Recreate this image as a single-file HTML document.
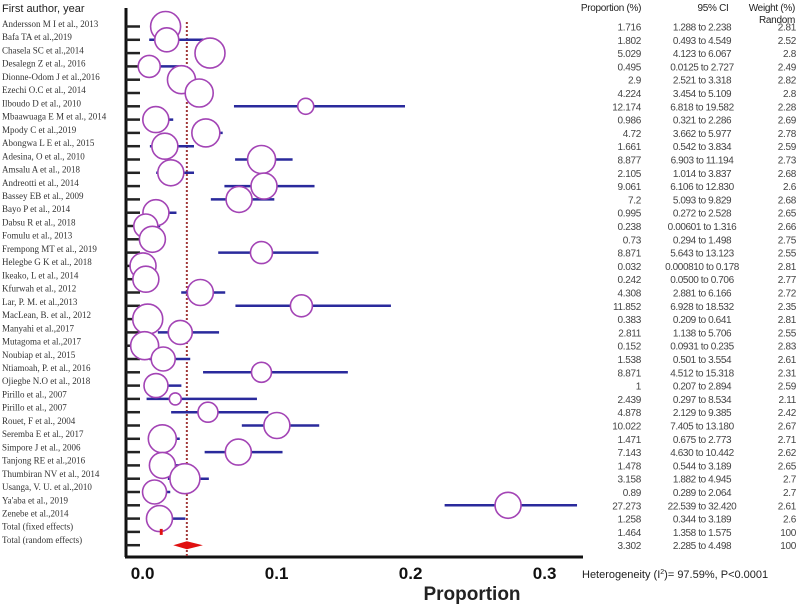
<!DOCTYPE html>
<html><head><meta charset="utf-8"><style>
body{margin:0;background:#fff;width:797px;height:606px;overflow:hidden;position:relative}
svg{position:absolute;left:0;top:0}
</style></head><body>
<svg id="plot" width="797" height="606"></svg>
<script>
const authors=["Andersson M I et al., 2013","Bafa TA  et al.,2019","Chasela SC et al.,2014","Desalegn Z et al., 2016","Dionne-Odom J et al.,2016","Ezechi O.C et al., 2014","Ilboudo D et al., 2010","Mbaawuaga E M et al., 2014","Mpody C et al.,2019","Abongwa L E et al., 2015","Adesina, O et al., 2010","Amsalu A et al., 2018","Andreotti et al., 2014","Bassey EB et al., 2009","Bayo P et al., 2014","Dabsu R et al., 2018","Fomulu et al., 2013","Frempong MT et al., 2019","Helegbe G K et al., 2018","Ikeako, L et al., 2014","Kfurwah et al., 2012","Lar, P. M. et al.,2013","MacLean, B. et al., 2012","Manyahi et al.,2017","Mutagoma et al.,2017","Noubiap et al., 2015","Ntiamoah, P. et al., 2016","Ojiegbe N.O et al., 2018","Pirillo et al., 2007","Pirillo et al., 2007","Rouet, F et al., 2004","Seremba E et al., 2017","Simpore J et al., 2006","Tanjong RE et al.,2016","Thumbiran NV et al., 2014","Usanga, V. U. et al.,2010","Ya'aba et al., 2019","Zenebe et al.,2014","Total (fixed effects)","Total (random effects)"];
const proportion=[1.716,1.802,5.029,0.495,2.9,4.224,12.174,0.986,4.72,1.661,8.877,2.105,9.061,7.2,0.995,0.238,0.73,8.871,0.032,0.242,4.308,11.852,0.383,2.811,0.152,1.538,8.871,1,2.439,4.878,10.022,1.471,7.143,1.478,3.158,0.89,27.273,1.258,1.464,3.302];
const ciLow=[1.288,0.493,4.123,0.0125,2.521,3.454,6.818,0.321,3.662,0.542,6.903,1.014,6.106,5.093,0.272,0.00601,0.294,5.643,0.000810,0.0500,2.881,6.928,0.209,1.138,0.0931,0.501,4.512,0.207,0.297,2.129,7.405,0.675,4.630,0.544,1.882,0.289,22.539,0.344,1.358,2.285];
const ciHigh=[2.238,4.549,6.067,2.727,3.318,5.109,19.582,2.286,5.977,3.834,11.194,3.837,12.830,9.829,2.528,1.316,1.498,13.123,0.178,0.706,6.166,18.532,0.641,5.706,0.235,3.554,15.318,2.894,8.534,9.385,13.180,2.773,10.442,3.189,4.945,2.064,32.420,3.189,1.575,4.498];
const ciText=["1.288","0.493","4.123","0.0125","2.521","3.454","6.818","0.321","3.662","0.542","6.903","1.014","6.106","5.093","0.272","0.00601","0.294","5.643","0.000810","0.0500","2.881","6.928","0.209","1.138","0.0931","0.501","4.512","0.207","0.297","2.129","7.405","0.675","4.630","0.544","1.882","0.289","22.539","0.344","1.358","2.285"];
const ciHighText=["2.238","4.549","6.067","2.727","3.318","5.109","19.582","2.286","5.977","3.834","11.194","3.837","12.830","9.829","2.528","1.316","1.498","13.123","0.178","0.706","6.166","18.532","0.641","5.706","0.235","3.554","15.318","2.894","8.534","9.385","13.180","2.773","10.442","3.189","4.945","2.064","32.420","3.189","1.575","4.498"];
const weightRandom=["2.81","2.52","2.8","2.49","2.82","2.8","2.28","2.69","2.78","2.59","2.73","2.68","2.6","2.68","2.65","2.66","2.75","2.55","2.81","2.77","2.72","2.35","2.81","2.55","2.83","2.61","2.31","2.59","2.11","2.42","2.67","2.71","2.62","2.65","2.7","2.7","2.61","2.6","100","100"];
const markerSize=[15,12,15,11,14,14,8,13,14,13,14,13,13,13,13,12,13,11,13,13,13,11,15,12,14,12,10,12,6,10,13,14,13,13,15,12,13,13];
const xTicks=[0,0.1,0.2,0.3];
const xTickLabels=["0.0","0.1","0.2","0.3"];

const NS="http://www.w3.org/2000/svg";
const svg=document.getElementById('plot');
const x=v=>142.6+v*1340;
const rowY=i=>26.5+i*13.3;
const labY=i=>24+i*13.23;
function mk(tag,attrs,parent){const e=document.createElementNS(NS,tag);for(const k in attrs)e.setAttribute(k,attrs[k]);(parent||svg).appendChild(e);return e;}
function txt(s,attrs){const e=mk('text',attrs);e.textContent=s;return e;}

let t=txt("First author, year",{x:2,y:12,'font-family':'Liberation Sans, sans-serif','font-size':11,fill:'#222'});

authors.forEach((a,i)=>{
  const e=txt(a,{x:2,y:labY(i)+3,'font-family':'Liberation Serif, serif','font-size':9,fill:'#333'});
  
  
});
let ax=mk('line',{x1:126,y1:8,x2:126,y2:557,stroke:'#111','stroke-width':3});

let bx=mk('line',{x1:125,y1:557,x2:583,y2:557,stroke:'#111','stroke-width':3});

proportion.forEach((p,i)=>{
  const tk=mk('line',{x1:126,y1:rowY(i),x2:140,y2:rowY(i),stroke:'#222','stroke-width':2.5});
  
  
});
xTicks.forEach((v,i)=>{
  const e=txt(xTickLabels[i],{x:x(v),y:579,'text-anchor':'middle','font-family':'Liberation Sans, sans-serif','font-size':17,'font-weight':'bold',fill:'#111'});
  
  
});
t=txt("Proportion",{x:472,y:600,'text-anchor':'middle','font-family':'Liberation Sans, sans-serif','font-size':19,'font-weight':'bold',fill:'#222'});

let rl=mk('line',{x1:x(proportion[39]/100),y1:22,x2:x(proportion[39]/100),y2:556,stroke:'#a03838','stroke-width':2,'stroke-dasharray':'2,2'});

for(let i=0;i<38;i++){
  const l=mk('line',{x1:x(ciLow[i]/100),y1:rowY(i),x2:x(ciHigh[i]/100),y2:rowY(i),stroke:'#2a2a9c','stroke-width':2.5});
  
  
}
for(let i=0;i<38;i++){
  const c=mk('circle',{cx:x(proportion[i]/100),cy:rowY(i),r:markerSize[i],fill:'#fff',stroke:'#a344b5','stroke-width':1.6});
  
  
}
let fx=mk('rect',{x:x(ciLow[38]/100)-1,y:rowY(38)-3,width:Math.max(2,x(ciHigh[38]/100)-x(ciLow[38]/100)),height:6,fill:'#e01010'});

const yd=rowY(39);
let dm=mk('polygon',{points:`${x(ciLow[39]/100)},${yd} ${x(proportion[39]/100)},${yd-4} ${x(ciHigh[39]/100)},${yd} ${x(proportion[39]/100)},${yd+4}`,fill:'#e01010'});

const tf='Liberation Sans, sans-serif';
[["Proportion (%)",611,11,'middle'],["95% CI",713,11,'middle'],["Weight (%)",795,11,'end'],["Random",795,23,'end']].forEach(h=>{
  const e=txt(h[0],{x:h[1],y:h[2],'text-anchor':h[3],'font-family':tf,'font-size':10,fill:'#222','letter-spacing':'-0.3'});
  
  
});
proportion.forEach((p,i)=>{
  const y=rowY(i)+4;
  const a=txt(String(p),{x:641,y:y,'text-anchor':'end','font-family':tf,'font-size':10,fill:'#444','letter-spacing':'-0.3'});
  
  
  const b=txt(ciText[i]+" to "+ciHighText[i],{x:702,y:y,'text-anchor':'middle','font-family':tf,'font-size':10,fill:'#444','letter-spacing':'-0.4'});
  
  
  const w=txt(weightRandom[i],{x:796,y:y,'text-anchor':'end','font-family':tf,'font-size':10,fill:'#444','letter-spacing':'-0.3'});
  
  
});
const het=txt("Heterogeneity (I",{x:582,y:578,'font-family':tf,'font-size':11,fill:'#222'});

const sup=mk('tspan',{'font-size':7,dy:-4},het);sup.textContent="2";
const rest=mk('tspan',{dy:4},het);rest.textContent=")= 97.59%, P<0.0001";
</script>
</body></html>
